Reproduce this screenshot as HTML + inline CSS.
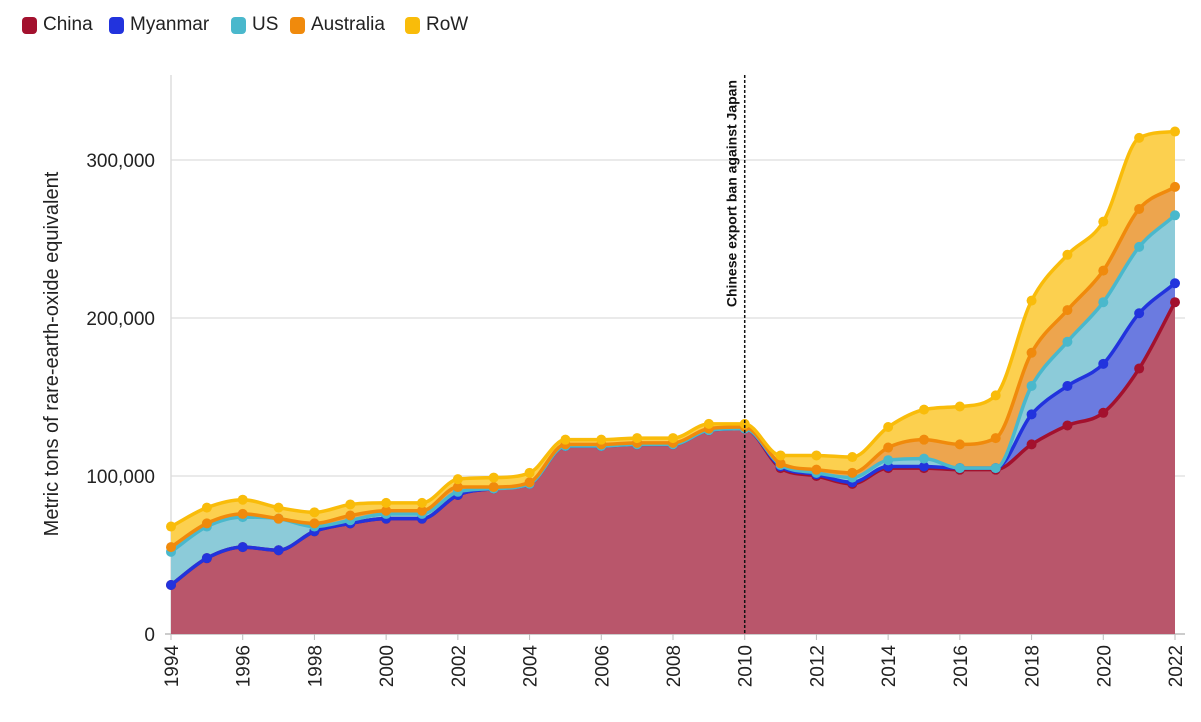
<!DOCTYPE html>
<html><head><meta charset="utf-8"><style>
body{margin:0;background:#fff;font-family:"Liberation Sans",sans-serif}
#wrap{position:relative;width:1201px;height:722px;overflow:hidden}
.leg{position:absolute;top:14px;display:flex;align-items:center;font-size:19px;color:#222}
.sw{width:15px;height:17px;border-radius:4px;margin-right:6px}
</style></head><body>
<div id="wrap">
<div class="leg" style="left:22px"><div class="sw" style="background:#a3112e"></div>China</div>
<div class="leg" style="left:109px"><div class="sw" style="background:#2233dd"></div>Myanmar</div>
<div class="leg" style="left:231px"><div class="sw" style="background:#4ab8cc"></div>US</div>
<div class="leg" style="left:290px"><div class="sw" style="background:#f08a0c"></div>Australia</div>
<div class="leg" style="left:405px"><div class="sw" style="background:#f9bc0a"></div>RoW</div>
<svg id="svg" width="1201" height="722" style="position:absolute;left:0;top:0"></svg>
</div>
<script>
const years=[1994,1995,1996,1997,1998,1999,2000,2001,2002,2003,2004,2005,2006,2007,2008,2009,2010,2011,2012,2013,2014,2015,2016,2017,2018,2019,2020,2021,2022];
const china=[31,48,55,53,65,70,73,73,88,92,95,119,119,120,120,129,130,105,100,95,105,105,104,104,120,132,140,168,210].map(v=>v*1000);
const myanmar=[0,0,0,0,0,0,0,0,0,0,0,0,0,0,0,0,0,1,1,1,1,1,1,1,19,25,31,35,12].map(v=>v*1000);
const us=[21,20,19,20,3,2,3,3,2,0,0,0,0,0,0,0,0,1,1,3,4,5,0,0,18,28,39,42,43].map(v=>v*1000);
const australia=[3,2,2,0,2,3,2,2,3,1,1,1,1,1,1,1,1,1,2,3,8,12,15,19,21,20,20,24,18].map(v=>v*1000);
const row=[13,10,9,7,7,7,5,5,5,6,6,3,3,3,3,3,2,5,9,10,13,19,24,27,33,35,31,45,35].map(v=>v*1000);
const yTicks=[0,100000,200000,300000];
const yTickLabels=["0","100,000","200,000","300,000"];
const eventYear=2010, eventLabel="Chinese export ban against Japan";
const NS="http://www.w3.org/2000/svg", svg=document.getElementById('svg');
const X=y=>171+(y-1994)*(1175-171)/28, Y=v=>634-v*158/100000;
function mk(t,a,p){const e=document.createElementNS(NS,t);for(const k in a)e.setAttribute(k,a[k]);(p||svg).appendChild(e);return e;}
function mono(pts){const n=pts.length,d=[],m=[];for(let i=0;i<n-1;i++)d.push((pts[i+1][1]-pts[i][1])/(pts[i+1][0]-pts[i][0]));
m[0]=d[0];m[n-1]=d[n-2];for(let i=1;i<n-1;i++){m[i]=d[i-1]*d[i]<=0?0:(d[i-1]+d[i])/2;}
for(let i=0;i<n-1;i++){if(d[i]===0){m[i]=m[i+1]=0;continue;}const a=m[i]/d[i],b=m[i+1]/d[i],s=a*a+b*b;if(s>9){const t=3/Math.sqrt(s);m[i]=t*a*d[i];m[i+1]=t*b*d[i];}}
let s="M"+pts[0][0]+","+pts[0][1];for(let i=0;i<n-1;i++){const h=(pts[i+1][0]-pts[i][0])/3;s+=` C${pts[i][0]+h},${pts[i][1]+m[i]*h} ${pts[i+1][0]-h},${pts[i+1][1]-m[i+1]*h} ${pts[i+1][0]},${pts[i+1][1]}`;}return s;}
function rev(pts){return mono(pts.slice().reverse()).replace(/^M/,"L");}
yTicks.forEach((t,i)=>{if(t>0){const g=mk('line',{x1:171,x2:1185,y1:Y(t),y2:Y(t),stroke:'#e3e3e3','stroke-width':1.5});}
const l=mk('text',{x:155,y:Y(t)+7,'text-anchor':'end','font-size':19,fill:'#222'});l.textContent=yTickLabels[i];});
mk('line',{x1:171,x2:171,y1:75,y2:634,stroke:'#ddd','stroke-width':1.5});
mk('line',{x1:165,x2:1185,y1:634,y2:634,stroke:'#bbb','stroke-width':1.5});
const series=[["china",china,"#b9566b","#a3112e"],["myanmar",myanmar,"#6b7be0","#2233dd"],["us",us,"#8ccbd9","#4ab8cc"],["australia",australia,"#eda54e","#f08a0c"],["row",row,"#fcd04f","#f9bc0a"]];
let base=years.map(()=>0);
const tops=[];
series.forEach(([nm,vals,fill,line])=>{const top=base.map((b,i)=>b+vals[i]);
const tp=years.map((y,i)=>[X(y),Y(top[i])]),bp=years.map((y,i)=>[X(y),Y(base[i])]);
const a=mk('path',{d:mono(tp)+rev(bp)+"Z",fill:fill});
tops.push([nm,tp,line]);base=top;});
tops.forEach(([nm,tp,line])=>{const p=mk('path',{d:mono(tp),fill:'none',stroke:line,'stroke-width':3.5});
tp.forEach(q=>{const c=mk('circle',{cx:q[0],cy:q[1],r:5,fill:line});});});
const ex=X(eventYear);
const el=mk('line',{x1:ex,x2:ex,y1:75,y2:634,stroke:'#111','stroke-width':1.5,'stroke-dasharray':'3,2'});
const et=mk('text',{x:0,y:0,transform:`translate(${ex-8},80) rotate(-90)`,'text-anchor':'end','font-size':14,'font-weight':'bold',fill:'#111'});et.textContent=eventLabel;
years.forEach(y=>{if(y%2)return;const x=X(y);mk('line',{x1:x,x2:x,y1:634,y2:640,stroke:'#bbb'});
const t=mk('text',{transform:`translate(${x+7},645) rotate(-90)`,'text-anchor':'end','font-size':19,fill:'#222'});t.textContent=y;});
const yt=mk('text',{transform:'translate(58,354) rotate(-90)','text-anchor':'middle','font-size':20,fill:'#222'});yt.textContent="Metric tons of rare-earth-oxide equivalent";
</script></body></html>
